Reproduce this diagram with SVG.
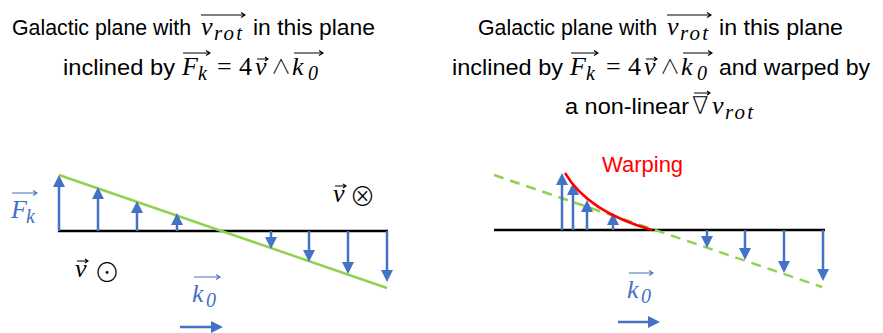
<svg xmlns="http://www.w3.org/2000/svg" width="883" height="333" viewBox="0 0 883 333">
<style>
.t{font-family:"Liberation Sans","Arial",sans-serif;font-size:22px;fill:#000}
.m{font-family:"Liberation Serif","DejaVu Serif",serif;font-style:italic;font-size:26px}
.s{font-family:"Liberation Serif","DejaVu Serif",serif;font-style:italic;font-size:20px}
.sr{font-family:"Liberation Serif","DejaVu Serif",serif;font-style:italic;font-size:21px}
.u{font-family:"Liberation Serif","DejaVu Serif",serif;font-size:26px}
.sym{font-family:"Noto Sans CJK JP","DejaVu Sans",sans-serif;font-size:20px;font-weight:300}
.nab{font-family:"DejaVu Sans",sans-serif;font-size:24px;font-weight:200}
.big{font-family:"Noto Sans CJK JP","DejaVu Sans",sans-serif;font-size:26px;font-weight:300}
.ov{fill:none;stroke:#000;stroke-width:1.1}
.ovb{fill:none;stroke:#4472C4;stroke-width:1.1}
.blue{fill:#4472C4}
.arr{stroke:#4472C4;stroke-width:2.5;fill:none;marker-end:url(#ah)}
.base{stroke:#000;stroke-width:2.5}
.green{stroke:#92D050;stroke-width:2.5}
</style>
<defs>
<marker id="ah" viewBox="0 0 12 12" refX="1" refY="6" markerWidth="12" markerHeight="12" markerUnits="userSpaceOnUse" orient="auto">
<path d="M0,0 L12,6 L0,12 Z" fill="#4472C4"/>
</marker>
</defs>

<g id="title-left">
<text class="t" x="12" y="35" textLength="179" lengthAdjust="spacingAndGlyphs">Galactic plane with</text>
<text class="m" x="201" y="35">v</text><text class="sr" x="214" y="40" textLength="28" lengthAdjust="spacing">rot</text>
<path class="ov" d="M201,15 H245 M241,12.5 L245,15 L241,17.5"/>
<text class="t" x="253" y="35" textLength="122" lengthAdjust="spacingAndGlyphs">in this plane</text>
<text class="t" x="63" y="75" textLength="112" lengthAdjust="spacingAndGlyphs">inclined by</text>
<text class="m" x="182" y="75">F</text><text class="s" x="198" y="80">k</text>
<path class="ov" d="M183,53 H210 M206,50.5 L210,53 L206,55.5"/>
<text class="u" x="217" y="75">=</text>
<text class="u" x="239" y="75">4</text>
<text class="m" x="255" y="75">v</text>
<path class="ov" d="M257,59 H268 M265,57 L268,59 L265,61"/>
<text class="sym" x="271" y="74">∧</text>
<text class="m" x="292" y="75">k</text><text class="s" x="308" y="80">0</text>
<path class="ov" d="M294,53 H323 M319,50.5 L323,53 L319,55.5"/>
</g>

<g id="title-right">
<text class="t" x="478" y="35" textLength="179" lengthAdjust="spacingAndGlyphs">Galactic plane with</text>
<text class="m" x="667" y="35">v</text><text class="sr" x="680" y="40" textLength="28" lengthAdjust="spacing">rot</text>
<path class="ov" d="M667,15 H711 M707,12.5 L711,15 L707,17.5"/>
<text class="t" x="719" y="35" textLength="124" lengthAdjust="spacingAndGlyphs">in this plane</text>
<text class="t" x="452" y="75" textLength="111" lengthAdjust="spacingAndGlyphs">inclined by</text>
<text class="m" x="570" y="75">F</text><text class="s" x="586" y="80">k</text>
<path class="ov" d="M571,53 H598 M594,50.5 L598,53 L594,55.5"/>
<text class="u" x="606" y="75">=</text>
<text class="u" x="628" y="75">4</text>
<text class="m" x="644" y="75">v</text>
<path class="ov" d="M646,59 H657 M654,57 L657,59 L654,61"/>
<text class="sym" x="660" y="74">∧</text>
<text class="m" x="681" y="75">k</text><text class="s" x="697" y="80">0</text>
<path class="ov" d="M683,53 H712 M708,50.5 L712,53 L708,55.5"/>
<text class="t" x="719" y="75" textLength="151" lengthAdjust="spacingAndGlyphs">and warped by</text>
<text class="t" x="565" y="114" textLength="124" lengthAdjust="spacingAndGlyphs">a non-linear</text>
<text class="nab" x="692" y="114">∇</text>
<path class="ov" d="M694,93 H710 M707,91 L710,93 L707,95"/>
<text class="m" x="712" y="114">v</text><text class="sr" x="725" y="119" textLength="28" lengthAdjust="spacing">rot</text>
</g>

<g id="panel-left">
<line class="base" x1="58" y1="231" x2="388" y2="231"/>
<line class="green" x1="59" y1="175" x2="387" y2="288"/>
<g id="connectors-left">
<line class="arr" x1="59" y1="231" x2="59" y2="186"/>
<line class="arr" x1="98" y1="231" x2="98" y2="198"/>
<line class="arr" x1="137" y1="231" x2="137" y2="212"/>
<line class="arr" x1="177" y1="231" x2="177" y2="224"/>
<line class="arr" x1="271" y1="231" x2="271" y2="238"/>
<line class="arr" x1="309" y1="231" x2="309" y2="251"/>
<line class="arr" x1="348" y1="231" x2="348" y2="263"/>
<line class="arr" x1="387" y1="231" x2="387" y2="271"/>
<line class="arr" x1="180" y1="327" x2="212" y2="327"/>
</g>
<g id="label-Fk">
<text class="m blue" x="11" y="218">F</text><text class="s blue" x="26" y="223">k</text>
<path class="ovb" d="M12,193 H37 M33,190.5 L37,193 L33,195.5"/>
</g>
<g id="label-v-out">
<text class="m" x="75" y="277">v</text>
<path class="ov" d="M77,261 H88 M85,259 L88,261 L85,263"/>
<text class="big" x="94" y="281.5">⊙</text>
</g>
<g id="label-v-in">
<text class="m" x="333" y="202">v</text>
<path class="ov" d="M335,186 H346 M343,184 L346,186 L343,188"/>
<text class="big" x="349.5" y="205.5">⊗</text>
</g>
<g id="label-k0-left">
<text class="m blue" x="192" y="302">k</text><text class="s blue" x="206" y="307">0</text>
<path class="ovb" d="M194,277 H220 M216,274.5 L220,277 L216,279.5"/>
</g>
</g>

<g id="panel-right">
<line class="base" x1="494" y1="230" x2="825" y2="230"/>
<line class="green" x1="494" y1="175" x2="822" y2="287" stroke-dasharray="10 7"/>
<g id="connectors-right">
<line class="arr" x1="562" y1="230" x2="562" y2="184"/>
<line class="arr" x1="573" y1="230" x2="573" y2="194"/>
<line class="arr" x1="587" y1="230" x2="587" y2="211"/>
<line class="arr" x1="613" y1="230" x2="613" y2="224"/>
<line class="arr" x1="707" y1="230" x2="707" y2="237"/>
<line class="arr" x1="745" y1="230" x2="745" y2="249"/>
<line class="arr" x1="784" y1="230" x2="784" y2="262"/>
<line class="arr" x1="823" y1="230" x2="823" y2="270"/>
<line class="arr" x1="618" y1="322" x2="649" y2="322"/>
</g>
<path id="warp-curve" d="M565,173 Q588,212 652,230" fill="none" stroke="#FF0000" stroke-width="2.5"/>
<text id="label-warping" x="602" y="172" style="font-family:'Liberation Sans',Arial,sans-serif;font-size:22px;fill:#FF0000">Warping</text>
<g id="label-k0-right">
<text class="m blue" x="627" y="298">k</text><text class="s blue" x="641" y="303">0</text>
<path class="ovb" d="M629,273 H653 M649,270.5 L653,273 L649,275.5"/>
</g>
</g>
</svg>
